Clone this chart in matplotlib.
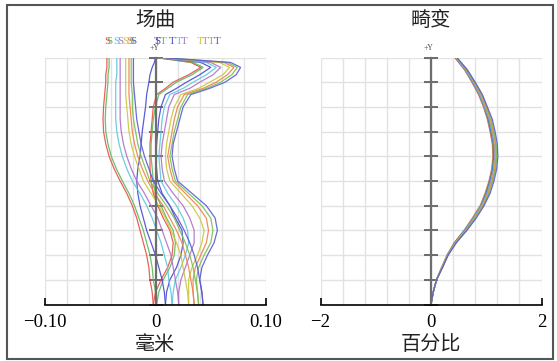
import numpy as np
import matplotlib
matplotlib.use('Agg')
import matplotlib.pyplot as plt
from matplotlib.ticker import MultipleLocator
from matplotlib.patches import Rectangle

# relative field height (0 = axis, 1 = +Y max)
field = [0, .05, .1, .15, .2, .25, .3, .35, .4, .45, .5, .55, .6, .65, .7, .75,
         .8, .85, .875, .9, .93, .96, .98, 1.0]

# sagittal field curvature per wavelength (mm)
sag = [
    [-.002, -.003, -.005, -.006, -.008, -.011, -.014, -.017, -.021, -.026, -.032, -.0375, -.042, -.045, -.047, -.0475, -.047, -.046, -.0455, -.045, -.045, -.044, -.044, -.044],
    [.001, .000, -.002, -.003, -.005, -.008, -.011, -.015, -.019, -.024, -.030, -.0355, -.040, -.043, -.045, -.0455, -.045, -.044, -.0435, -.043, -.043, -.042, -.042, -.042],
    [.009, .008, .006, .003, .000, -.004, -.008, -.011, -.014, -.016, -.017, -.016, -.014, -.013, -.012, -.0105, -.009, -.008, -.007, -.006, -.005, -.003, -.001, .000],
    [.015, .014, .012, .011, .008, .005, .001, -.003, -.008, -.014, -.021, -.026, -.030, -.033, -.035, -.036, -.036, -.036, -.036, -.036, -.035, -.035, -.035, -.035],
    [.021, .020, .018, .016, .014, .010, .006, .002, -.004, -.010, -.017, -.022, -.026, -.029, -.031, -.032, -.032, -.032, -.032, -.032, -.032, -.032, -.032, -.032],
    [.030, .029, .027, .025, .023, .019, .014, .009, .003, -.004, -.011, -.015, -.019, -.022, -.024, -.025, -.026, -.027, -.027, -.027, -.027, -.027, -.027, -.027],
    [.035, .034, .032, .030, .027, .024, .019, .013, .007, -.001, -.007, -.012, -.016, -.019, -.021, -.022, -.023, -.024, -.024, -.024, -.024, -.024, -.024, -.024],
    [.039, .038, .036, .034, .031, .027, .022, .017, .010, .002, -.005, -.009, -.013, -.016, -.018, -.020, -.021, -.021, -.0215, -.022, -.022, -.022, -.022, -.022],
    [.043, .042, .040, .038, .035, .031, .026, .020, .013, .005, -.002, -.006, -.010, -.013, -.015, -.017, -.018, -.019, -.0195, -.020, -.020, -.020, -.020, -.020],
]

# tangential field curvature per wavelength (mm)
tan = [
    [-.002, .000, .005, .011, .015, .016, .013, .007, .002, -.002, -.004, -.005, -.005, -.005, -.004, -.003, -.002, .001, .009, .016, .030, .041, .032, .000],
    [.001, .003, .007, .013, .017, .018, .016, .010, .005, .000, -.002, -.003, -.004, -.004, -.003, -.002, .000, .003, .011, .019, .033, .043, .034, .000],
    [.009, .010, .013, .019, .023, .025, .024, .018, .013, .006, .002, .001, .000, .001, .002, .003, .005, .009, .019, .028, .040, .050, .041, .001],
    [.015, .016, .018, .023, .027, .030, .029, .025, .019, .011, .005, .004, .003, .004, .005, .006, .008, .013, .025, .034, .046, .055, .046, .002],
    [.021, .021, .023, .027, .031, .035, .035, .031, .025, .016, .008, .006, .005, .006, .008, .010, .012, .017, .031, .040, .052, .059, .050, .002],
    [.030, .030, .030, .033, .038, .042, .044, .040, .033, .023, .013, .010, .009, .010, .012, .014, .017, .023, .039, .049, .061, .067, .058, .003],
    [.035, .034, .034, .036, .041, .046, .048, .046, .038, .027, .016, .013, .011, .013, .015, .017, .020, .026, .043, .055, .065, .071, .062, .003],
    [.039, .038, .037, .039, .044, .050, .052, .050, .042, .030, .018, .015, .013, .015, .017, .020, .023, .029, .046, .059, .069, .074, .065, .004],
    [.043, .042, .040, .042, .047, .053, .056, .054, .046, .033, .020, .017, .015, .016, .019, .022, .025, .032, .049, .063, .073, .077, .068, .004],
]

# distortion (%)
dist_field = [0, .05, .1, .15, .2, .25, .3, .35, .4, .45, .5, .55, .6, .65, .7, .75, .8, .85, .9, .95, 1.0]
dist = [
    [0, .04, .10, .19, .29, .42, .60, .75, .89, .98, 1.05, 1.10, 1.12, 1.11, 1.07, 1.02, .95, .86, .74, .61, .43],
    [0, .04, .10, .20, .29, .43, .60, .76, .90, .99, 1.06, 1.11, 1.13, 1.12, 1.08, 1.03, .96, .87, .75, .61, .44],
    [0, .04, .10, .20, .30, .43, .61, .77, .91, 1.00, 1.07, 1.12, 1.14, 1.13, 1.09, 1.04, .97, .88, .76, .62, .44],
    [0, .04, .10, .20, .30, .44, .61, .77, .91, 1.01, 1.08, 1.13, 1.15, 1.14, 1.10, 1.05, .97, .88, .76, .62, .45],
    [0, .04, .10, .20, .30, .44, .62, .78, .92, 1.02, 1.09, 1.14, 1.16, 1.15, 1.11, 1.06, .98, .89, .77, .63, .45],
    [0, .04, .10, .20, .30, .44, .63, .79, .93, 1.03, 1.10, 1.15, 1.17, 1.16, 1.12, 1.07, .99, .90, .78, .64, .45],
    [0, .04, .10, .20, .31, .45, .63, .80, .94, 1.04, 1.11, 1.16, 1.18, 1.17, 1.13, 1.08, 1.00, .91, .79, .64, .46],
    [0, .04, .10, .21, .31, .45, .64, .80, .95, 1.05, 1.12, 1.17, 1.19, 1.18, 1.14, 1.09, 1.01, .92, .79, .65, .46],
    [0, .04, .10, .21, .31, .46, .65, .82, .96, 1.07, 1.14, 1.19, 1.21, 1.20, 1.16, 1.11, 1.02, .93, .80, .66, .47],
]

colors = ['#e8504a', '#5cb85c', '#4a4ad0', '#5cc8dc', '#b070c8',
          '#c8c83c', '#f0804c', '#78c050', '#5a5ad8']

# S / T key letters above the plot (x in mm)
s_label_x = [-.044, -.042, .0015, -.035, -.032, -.027, -.024, -.022, -.020]
t_label_x = [.0015, .007, .015, .021, .026, .040, .045, .050, .056]

serif = ['Liberation Serif', 'DejaVu Serif']
cjk = ['Noto Sans CJK SC', 'DejaVu Sans']

fig = plt.figure(figsize=(5.57, 3.61), dpi=100)
W, H = 557.0, 361.0
axL = fig.add_axes([45 / W, 56.5 / H, 221 / W, 247 / H])
axR = fig.add_axes([320.5 / W, 56.5 / H, 221 / W, 247 / H])


def style(ax, lim, minor, ticks, labels):
    ax.set_xlim(-lim, lim)
    ax.set_ylim(0, 1)
    for s in ['top', 'right']:
        ax.spines[s].set_visible(False)
    ax.spines['left'].set_position(('data', 0))
    ax.spines['left'].set_color('#6e6e6e')
    ax.spines['left'].set_linewidth(1.6)
    ax.spines['bottom'].set_color('black')
    ax.spines['bottom'].set_linewidth(1.2)
    ax.set_yticks(np.arange(0, 1.01, 0.1))
    ax.tick_params(axis='y', direction='inout', length=10, width=1.2,
                   color='#555555', labelleft=False)
    ax.set_xticks(ticks, labels)
    ax.xaxis.set_minor_locator(MultipleLocator(minor))
    ax.tick_params(axis='x', which='major', direction='in', length=5,
                   width=1.2, labelsize=13.5, pad=6.5)
    ax.tick_params(axis='x', which='minor', length=0)
    for lab in ax.get_xticklabels():
        lab.set_family(serif)
    ax.grid(which='both', color='#e2e2e2', lw=1)
    ax.set_axisbelow(True)


style(axL, 0.1, 0.02, [-0.1, 0, 0.1], ['\u22120.10', '0', '0.10'])
style(axR, 2, 0.4, [-2, 0, 2], ['\u22122', '0', '2'])

for k in range(len(colors)):
    axL.plot(sag[k], field, color=colors[k], lw=0.9, alpha=0.9)
    axL.plot(tan[k], field, color=colors[k], lw=0.9, alpha=0.9)
    axR.plot(dist[k], dist_field, color=colors[k], lw=0.9, alpha=0.9)
    axL.text(s_label_x[k], 1.063, 'S', color=colors[k], fontsize=8,
             family=serif, ha='center', va='center', clip_on=False)
    axL.text(t_label_x[k], 1.063, 'T', color=colors[k], fontsize=8,
             family=serif, ha='center', va='center', clip_on=False)

axL.text(-0.001, 1.04, '+Y', fontsize=5.5, family=serif, color='#444444',
         ha='center', va='center', clip_on=False)
axR.text(-0.05, 1.04, '+Y', fontsize=5.5, family=serif, color='#444444',
         ha='center', va='center', clip_on=False)

fig.text(155 / W, 1 - 20 / H, '场曲', fontsize=14.5, family=cjk,
         ha='center', va='center', color='#222222')
fig.text(431 / W, 1 - 20 / H, '畸变', fontsize=14.5, family=cjk,
         ha='center', va='center', color='#222222')
fig.text(155 / W, 1 - 345 / H, '毫米', fontsize=14.5, family=cjk,
         ha='center', va='center', color='#222222')
fig.text(431 / W, 1 - 345 / H, '百分比', fontsize=14.5, family=cjk,
         ha='center', va='center', color='#222222')

fig.patches.append(Rectangle((7 / W, 2 / H), 546 / W, 354 / H,
                             transform=fig.transFigure, fill=False,
                             ec='#555555', lw=1.5))

fig.savefig('out.png', dpi=100)
